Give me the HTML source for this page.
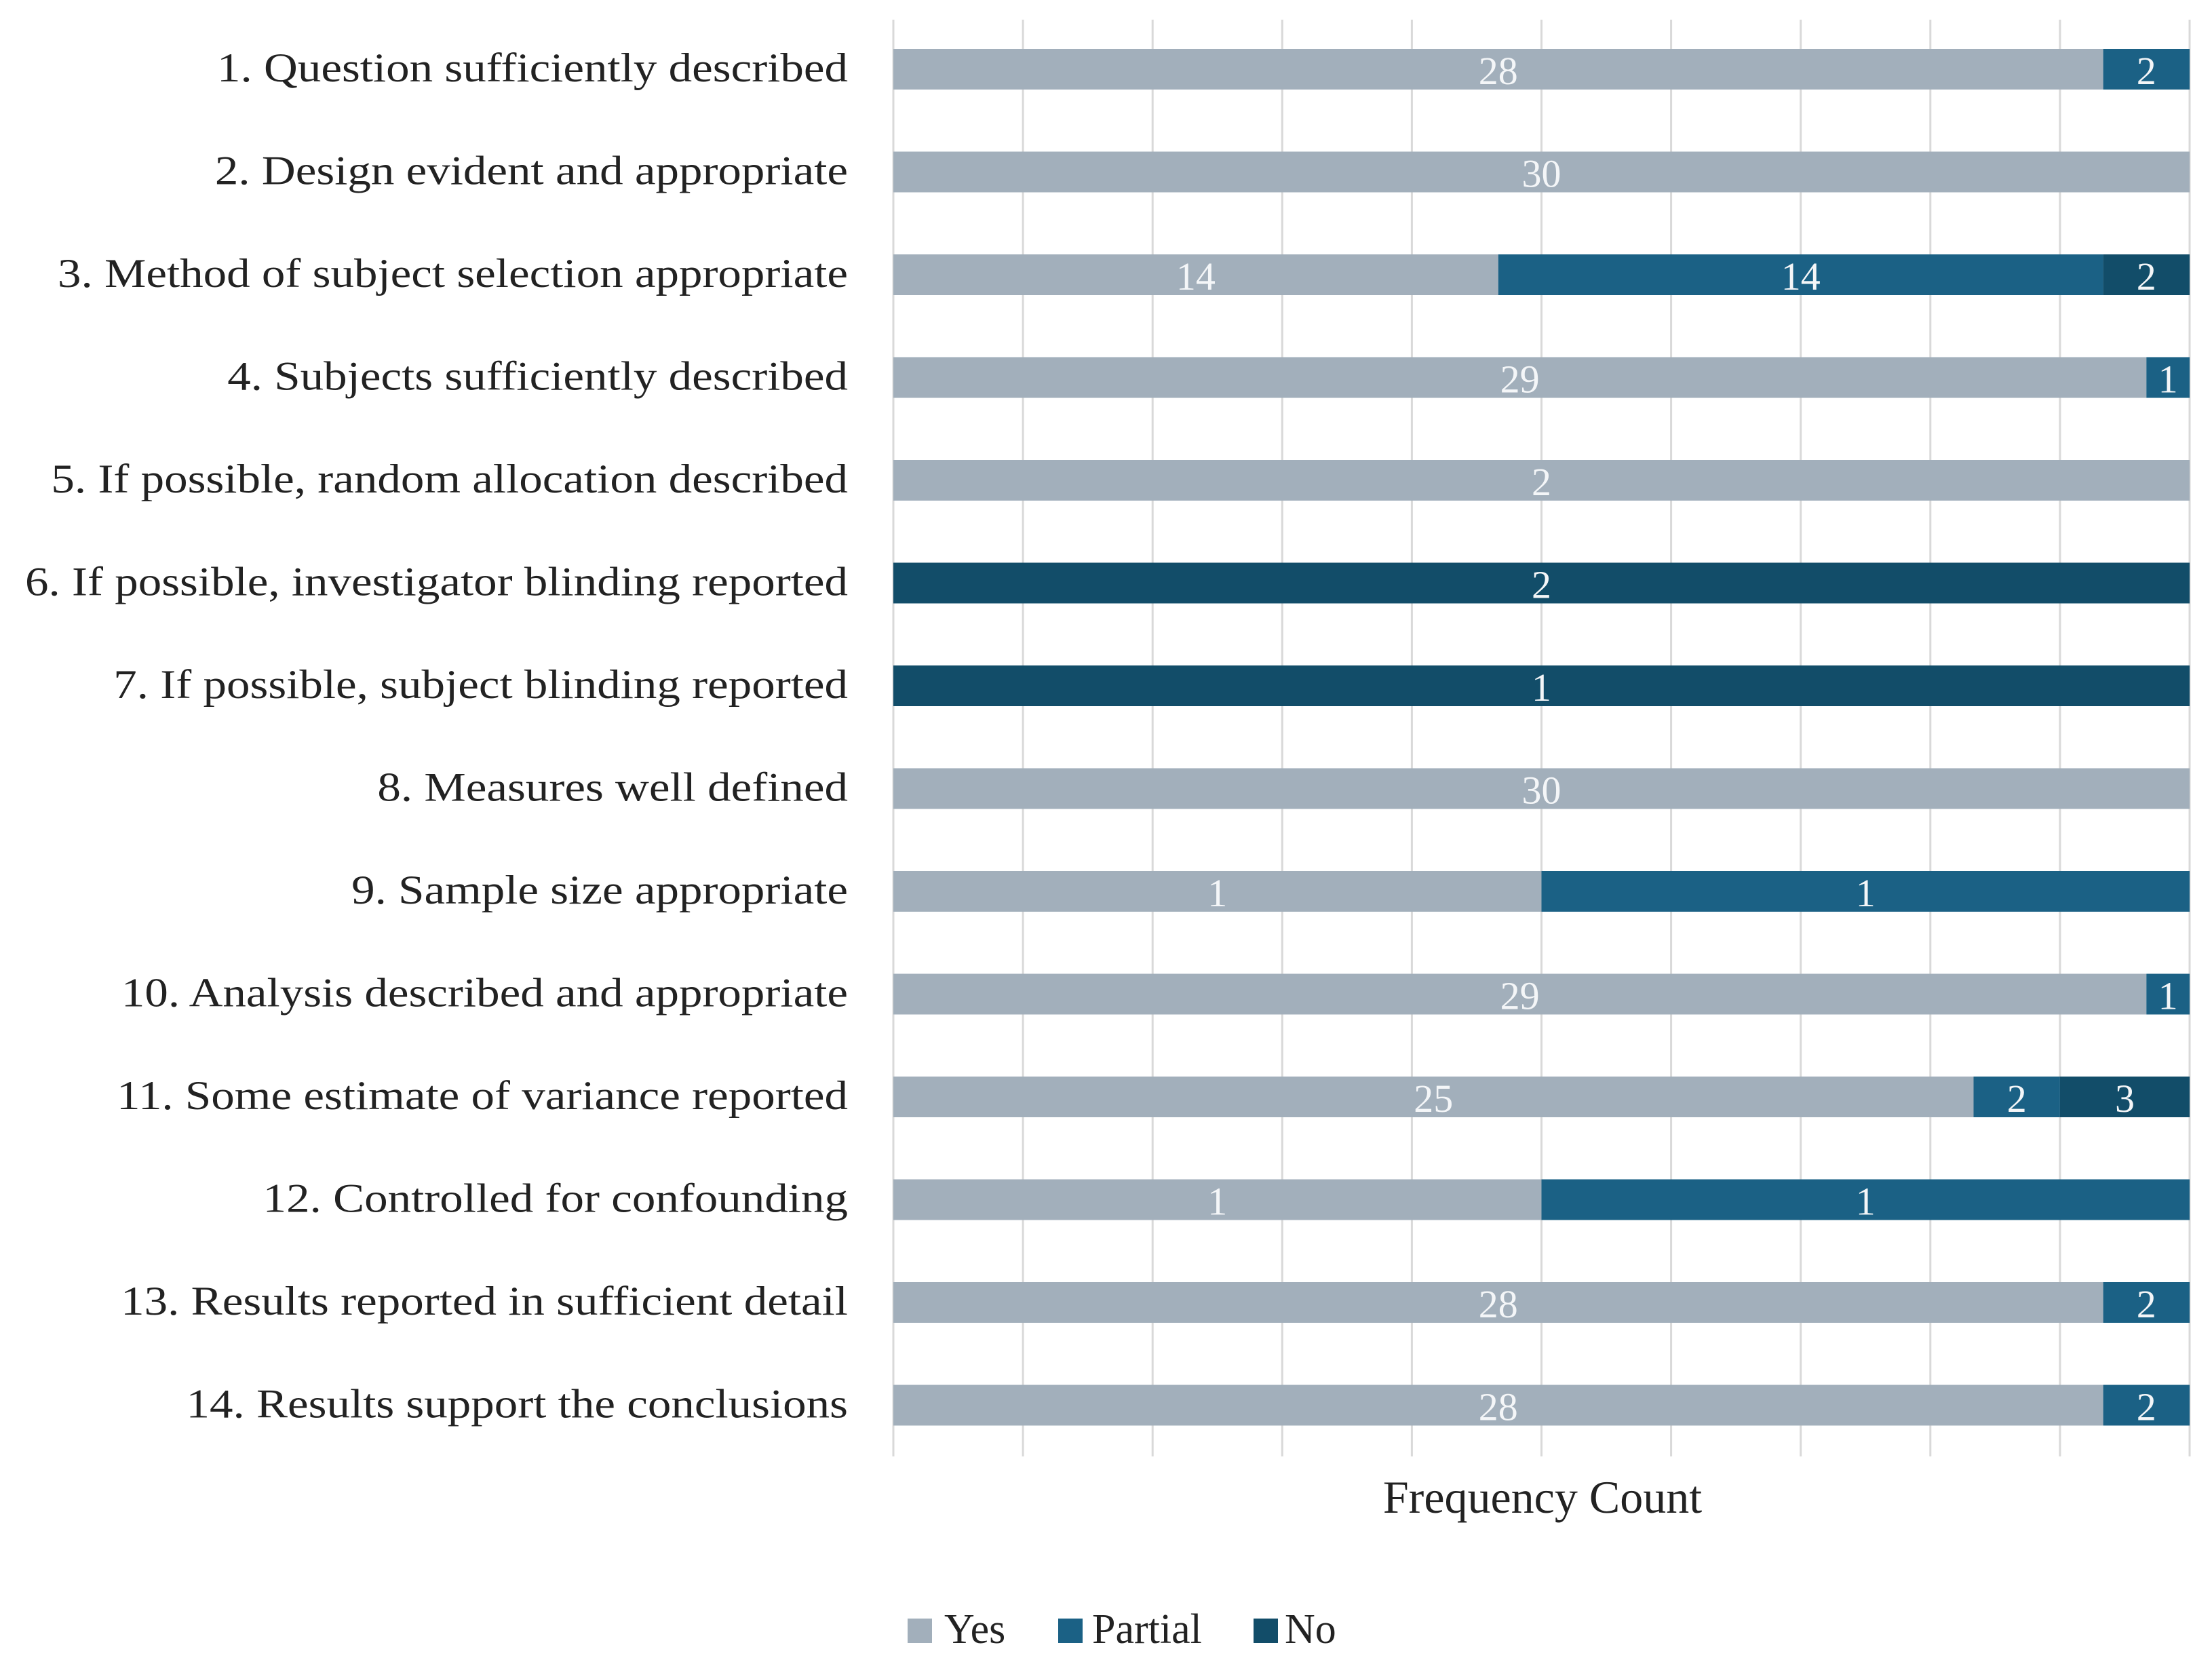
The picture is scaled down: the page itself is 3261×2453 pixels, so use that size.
<!DOCTYPE html>
<html><head><meta charset="utf-8"><style>
html,body{margin:0;padding:0;background:#fff;}
svg{display:block;font-family:"Liberation Serif",serif;}
</style></head><body>
<svg id="chart" width="3261" height="2453" viewBox="0 0 3261 2453" xmlns="http://www.w3.org/2000/svg">
<g id="grid"></g>
<g id="bars"></g>
<g id="labels"></g>
<text x="2274" y="2230" font-size="68" text-anchor="middle" fill="#222">Frequency Count</text>
<g>
<g><rect x="1338" y="2386" width="36" height="36" fill="#a2afbb"/><text x="1392" y="2422" font-size="62" fill="#222">Yes</text></g>
<g><rect x="1560" y="2386" width="36" height="36" fill="#1b6185"/><text x="1610" y="2422" font-size="62" fill="#222">Partial</text></g>
<g><rect x="1848" y="2386" width="36" height="36" fill="#124d69"/><text x="1894" y="2422" font-size="62" fill="#222">No</text></g>
</g>
</svg>
<script>
const categories = ["1. Question sufficiently described","2. Design evident and appropriate","3. Method of subject selection appropriate","4. Subjects sufficiently described","5. If possible, random allocation described","6. If possible, investigator blinding reported","7. If possible, subject blinding reported","8. Measures well defined","9. Sample size appropriate","10. Analysis described and appropriate","11. Some estimate of variance reported","12. Controlled for confounding","13. Results reported in sufficient detail","14. Results support the conclusions"];
const yesValues     = [28,30,14,29,2,0,0,30,1,29,25,1,28,28];
const partialValues = [2,0,14,1,0,0,0,0,1,1,2,1,2,2];
const noValues      = [0,0,2,0,0,2,1,0,0,0,3,0,0,0];
const seriesNames = ["yes","partial","no"];
const seriesColors = ["#a2afbb","#1b6185","#124d69"];
const gridTicks = [0,10,20,30,40,50,60,70,80,90,100];

const NS="http://www.w3.org/2000/svg";
const X0=1317, X1=3228, TOP=29, BOT=2147, Y0=102, STEP=151.5, BH=60;
const xScale=p=>X0+(X1-X0)*p/100;
const yScale=i=>Y0+i*STEP;
function mk(tag,attrs,parent){const e=document.createElementNS(NS,tag);for(const k in attrs)e.setAttribute(k,attrs[k]);parent.appendChild(e);return e;}
const grid=document.getElementById('grid'), bars=document.getElementById('bars'), labels=document.getElementById('labels');
gridTicks.forEach(t=>{
  const l=mk('line',{x1:xScale(t),x2:xScale(t),y1:TOP,y2:BOT,stroke:'#d9d9d9','stroke-width':3},grid);
  
  
});
const series=[yesValues,partialValues,noValues];
categories.forEach((c,i)=>{
  const cy=yScale(i);
  const tl=mk('text',{x:1250,y:cy+18,'font-size':60,'text-anchor':'end',fill:'#222'},labels);
  tl.textContent=c;
  
  
  const w=tl.getComputedTextLength();
  if(w>0){tl.setAttribute('textLength',(w*1.15).toFixed(1));tl.setAttribute('lengthAdjust','spacingAndGlyphs');}
  const total=series.reduce((s,a)=>s+a[i],0)||1;
  let acc=0;
  series.forEach((arr,s)=>{
    const v=arr[i]; if(!v) return;
    const xa=xScale(acc/total*100), xb=xScale((acc+v)/total*100);
    const r=mk('rect',{x:xa,y:cy-BH/2,width:xb-xa,height:BH,fill:seriesColors[s]},bars);
    
    
    const t=mk('text',{x:(xa+xb)/2,y:cy+22,'font-size':58,'text-anchor':'middle',fill:'#f4f6f8'},bars);
    t.textContent=v;
    
    
    acc+=v;
  });
});
</script>
</body></html>
